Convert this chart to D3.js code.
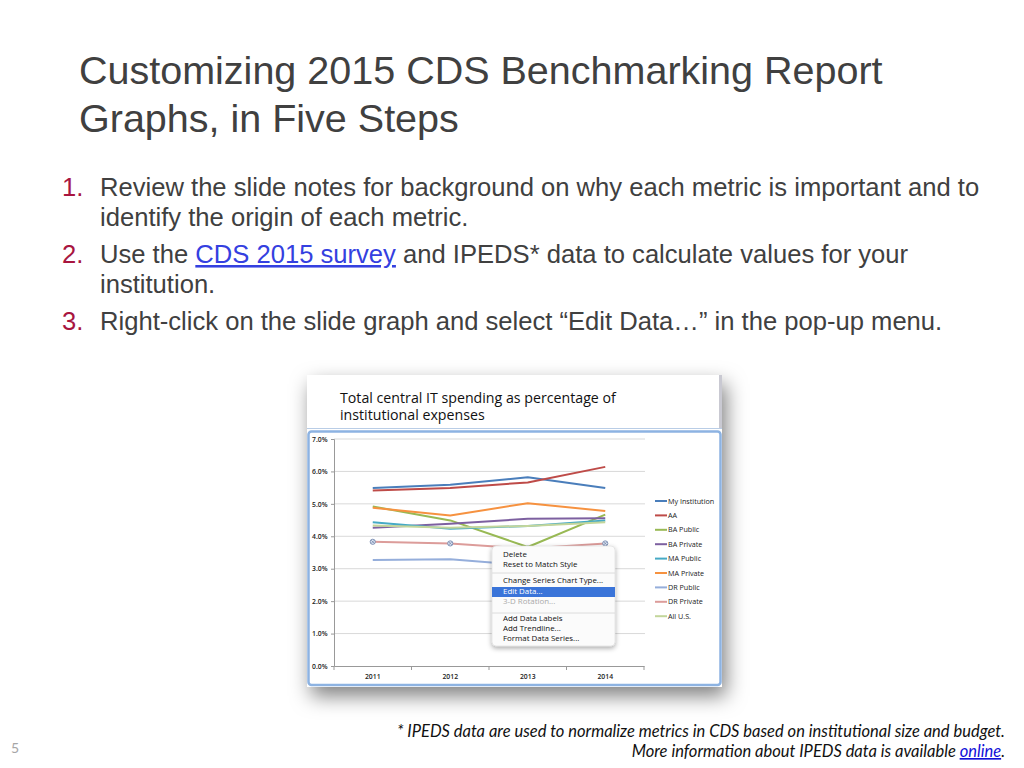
<!DOCTYPE html>
<html lang="en">
  <head>
    <meta charset="UTF-8" />
    <title>Customizing 2015 CDS Benchmarking Report Graphs</title>
    <script src="https://d3js.org/d3.v7.min.js"></script>
    <style>
      body { margin: 0; background: #fff; }
      svg { display: block; }
    </style>
  </head>
  <body>
    <svg width="1024" height="768" id="slide"></svg>

    <script>
      // Chart data (percent of institutional expenses)
      const years = ["2011", "2012", "2013", "2014"];
      const seriesNames = ["My Institution", "AA", "BA Public", "BA Private", "MA Public",
        "MA Private", "DR Public", "DR Private", "All U.S."];
      const seriesColors = ["#4a7ebb", "#be4b48", "#98b954", "#7d60a0", "#46aac5",
        "#f69240", "#95aedb", "#dc9c9a", "#c3d69b"];
      const myInstitution = [5.49, 5.59, 5.82, 5.49];
      const aa = [5.41, 5.49, 5.66, 6.14];
      const baPublic = [4.92, 4.49, 3.67, 4.67];
      const baPrivate = [4.26, 4.39, 4.54, 4.56];
      const maPublic = [4.43, 4.23, 4.32, 4.49];
      const maPrivate = [4.88, 4.64, 5.02, 4.78];
      const drPublic = [3.27, 3.29, 3.1, 3.08];
      const drPrivate = [3.83, 3.78, 3.62, 3.78];
      const allUS = [4.33, 4.26, 4.32, 4.43];
      const yTicks = [0, 1, 2, 3, 4, 5, 6, 7];
      const menuItems = ["Delete", "Reset to Match Style", "-", "Change Series Chart Type...",
        "Edit Data...", "3-D Rotation...", "-", "Add Data Labels", "Add Trendline...",
        "Format Data Series..."];

      const allSeries = [myInstitution, aa, baPublic, baPrivate, maPublic,
        maPrivate, drPublic, drPrivate, allUS];

      const svg = d3.select("#slide");
      const sans = "'Liberation Sans', Arial, sans-serif";
      const ui = "'Open Sans', 'DejaVu Sans', sans-serif";

      // ---- slide title and bullet list ----
      const title = svg.append("text")
        .attr("font-family", sans)
        .attr("font-size", 39.5)
        .attr("fill", "#404040");
      title.append("tspan").attr("x", 79).attr("y", 84).text("Customizing 2015 CDS Benchmarking Report");
      title.append("tspan").attr("x", 79).attr("y", 132).text("Graphs, in Five Steps");

      const bullets = [
        { n: "1.", lines: [["Review the slide notes for background on why each metric is important and to"],
                           ["identify the origin of each metric."]], y: 196 },
        { n: "2.", lines: [["Use the ", "CDS 2015 survey", " and IPEDS* data to calculate values for your"],
                           ["institution."]], y: 263 },
        { n: "3.", lines: [["Right-click on the slide graph and select \u201cEdit Data\u2026\u201d in the pop-up menu."]], y: 330 }
      ];

      bullets.forEach((b) => {
        svg.append("text")
          .attr("x", 62).attr("y", b.y)
          .attr("font-family", sans).attr("font-size", 25.6)
          .attr("fill", "#a8153f")
          .text(b.n);
        b.lines.forEach((parts, i) => {
          const t = svg.append("text")
            .attr("x", 100).attr("y", b.y + i * 30)
            .attr("font-family", sans).attr("font-size", 25.6)
            .attr("fill", "#404040");
          parts.forEach((p, j) => {
            const s = t.append("tspan").text(p);
            if (j === 1) s.attr("fill", "#3440e0").attr("text-decoration", "underline");
          });
        });
      });

      // ---- screenshot of the chart ----
      const defs = svg.append("defs");
      const shadow = defs.append("filter").attr("id", "shadow")
        .attr("x", "-20%").attr("y", "-20%").attr("width", "140%").attr("height", "150%");
      shadow.append("feDropShadow")
        .attr("dx", 4).attr("dy", 9).attr("stdDeviation", 10)
        .attr("flood-color", "#000").attr("flood-opacity", 0.5);
      const menuShadow = defs.append("filter").attr("id", "menuShadow")
        .attr("x", "-20%").attr("y", "-20%").attr("width", "140%").attr("height", "150%");
      menuShadow.append("feDropShadow")
        .attr("dx", 0).attr("dy", 2).attr("stdDeviation", 2.5)
        .attr("flood-color", "#000").attr("flood-opacity", 0.35);

      const shot = svg.append("g");
      shot.append("rect")
        .attr("x", 307).attr("y", 375).attr("width", 415).attr("height", 312)
        .attr("fill", "#fff").attr("filter", "url(#shadow)");
      shot.append("rect")
        .attr("x", 719).attr("y", 375).attr("width", 3).attr("height", 54)
        .attr("fill", "#c9c9d2");
      shot.append("line")
        .attr("x1", 307).attr("x2", 722).attr("y1", 428.5).attr("y2", 428.5)
        .attr("stroke", "#b9cde6").attr("stroke-width", 1);

      const chartTitle = shot.append("text")
        .attr("font-family", ui).attr("font-size", 14.2).attr("fill", "#111");
      chartTitle.append("tspan").attr("x", 340).attr("y", 403).text("Total central IT spending as percentage of");
      chartTitle.append("tspan").attr("x", 340).attr("y", 420).text("institutional expenses");

      shot.append("rect")
        .attr("x", 308.5).attr("y", 431.5).attr("width", 412).attr("height", 253.5)
        .attr("rx", 3)
        .attr("fill", "#fff").attr("stroke", "#8db3e2").attr("stroke-width", 2.5);

      // scales
      const x = d3.scaleBand().domain(years).range([334, 644]);
      const y = d3.scaleLinear().domain([0, 7]).range([666, 439]);

      // gridlines
      shot.append("g")
        .selectAll("line")
        .data(yTicks.filter((d) => d > 0))
        .join("line")
        .attr("x1", 334).attr("x2", 645)
        .attr("y1", (d) => y(d)).attr("y2", (d) => y(d))
        .attr("stroke", "#d9d9d9").attr("stroke-width", 1);

      // axes
      const yAxis = shot.append("g")
        .attr("transform", "translate(334,0)")
        .call(d3.axisLeft(y).tickValues(yTicks).tickSize(3).tickPadding(5)
          .tickFormat((d) => d.toFixed(1) + "%"));
      yAxis.selectAll("text")
        .attr("font-family", ui).attr("font-size", 6.8).attr("font-weight", 600)
        .attr("fill", "#222").attr("text-anchor", "start").attr("x", -22);

      const xAxis = shot.append("g")
        .attr("transform", "translate(0,666)")
        .call(d3.axisBottom(x).tickSize(0).tickPadding(8));
      xAxis.selectAll("text")
        .attr("font-family", ui).attr("font-size", 6.8).attr("font-weight", 600)
        .attr("fill", "#222");
      // tick marks between categories
      xAxis.append("g")
        .selectAll("line")
        .data(years.concat(["end"]))
        .join("line")
        .attr("x1", (d, i) => x.range()[0] + i * x.step())
        .attr("x2", (d, i) => x.range()[0] + i * x.step())
        .attr("y1", 0).attr("y2", 4)
        .attr("stroke", "#999");
      shot.selectAll(".domain").attr("stroke", "#999");
      yAxis.selectAll(".tick line").attr("stroke", "#999");

      // series lines
      const line = d3.line()
        .x((d, i) => x(years[i]) + x.bandwidth() / 2)
        .y((d) => y(d));

      shot.append("g")
        .selectAll("path")
        .data(allSeries)
        .join("path")
        .attr("d", line)
        .attr("fill", "none")
        .attr("stroke", (d, i) => seriesColors[i])
        .attr("stroke-width", 2)
        .attr("stroke-linejoin", "round");

      // selection markers on the selected series (DR Private)
      const markers = shot.append("g")
        .selectAll("g")
        .data(drPrivate)
        .join("g")
        .attr("transform", (d, i) =>
          "translate(" + (x(years[i]) + x.bandwidth() / 2) + "," + y(d) + ")");
      markers.append("circle").attr("r", 2.6)
        .attr("fill", "#dfe6f2").attr("stroke", "#6a7fa8").attr("stroke-width", 0.8);
      markers.append("path").attr("d", "M-1.6,-1.6L1.6,1.6M-1.6,1.6L1.6,-1.6")
        .attr("stroke", "#6a7fa8").attr("stroke-width", 0.7);

      // legend
      const legend = shot.append("g")
        .selectAll("g")
        .data(seriesNames)
        .join("g")
        .attr("transform", (d, i) => "translate(655," + (501 + i * 14.4) + ")");
      legend.append("line")
        .attr("x1", 0).attr("x2", 12)
        .attr("stroke", (d, i) => seriesColors[i]).attr("stroke-width", 2);
      legend.append("text")
        .attr("x", 13).attr("dy", "0.35em")
        .attr("font-family", ui).attr("font-size", 7.2).attr("fill", "#222")
        .text((d) => d);

      // context menu
      const menu = shot.append("g");
      menu.append("rect")
        .attr("x", 492).attr("y", 546).attr("width", 123).attr("height", 100)
        .attr("rx", 4).attr("fill", "#fbfbfb").attr("stroke", "#d0d0d0").attr("stroke-width", 0.5)
        .attr("filter", "url(#menuShadow)");
      const itemY = [557, 567, 573, 583, 594, 604, 613, 621, 631, 641];
      menuItems.forEach((m, i) => {
        if (m === "-") {
          menu.append("line")
            .attr("x1", 492).attr("x2", 615)
            .attr("y1", itemY[i]).attr("y2", itemY[i])
            .attr("stroke", "#dcdcdc");
          return;
        }
        if (m === "Edit Data...") {
          menu.append("rect")
            .attr("x", 492).attr("y", 587).attr("width", 123).attr("height", 10)
            .attr("fill", "#3a74d9");
        }
        menu.append("text")
          .attr("x", 503).attr("y", itemY[i])
          .attr("font-family", ui).attr("font-size", 7.9)
          .attr("fill", m === "Edit Data..." ? "#fff" : m === "3-D Rotation..." ? "#a9a9a9" : "#111")
          .text(m);
      });

      // ---- footnote and slide number ----
      const foot = svg.append("text")
        .attr("text-anchor", "end")
        .attr("font-family", "Lato, 'Open Sans', sans-serif")
        .attr("font-style", "italic").attr("font-size", 16.5)
        .attr("fill", "#111");
      foot.append("tspan").attr("x", 1005).attr("y", 737)
        .text("* IPEDS data are used to normalize metrics in CDS based on institutional size and budget.");
      const foot2 = foot.append("tspan").attr("x", 1005).attr("y", 757);
      foot2.append("tspan").text("More information about IPEDS data is available ");
      foot2.append("tspan").attr("fill", "#1010d8").attr("text-decoration", "underline").text("online");
      foot2.append("tspan").text(".");

      svg.append("text")
        .attr("x", 11).attr("y", 753)
        .attr("font-family", "Lato, sans-serif").attr("font-size", 14)
        .attr("fill", "#a6a6a6")
        .text("5");
    </script>
  </body>
</html>
